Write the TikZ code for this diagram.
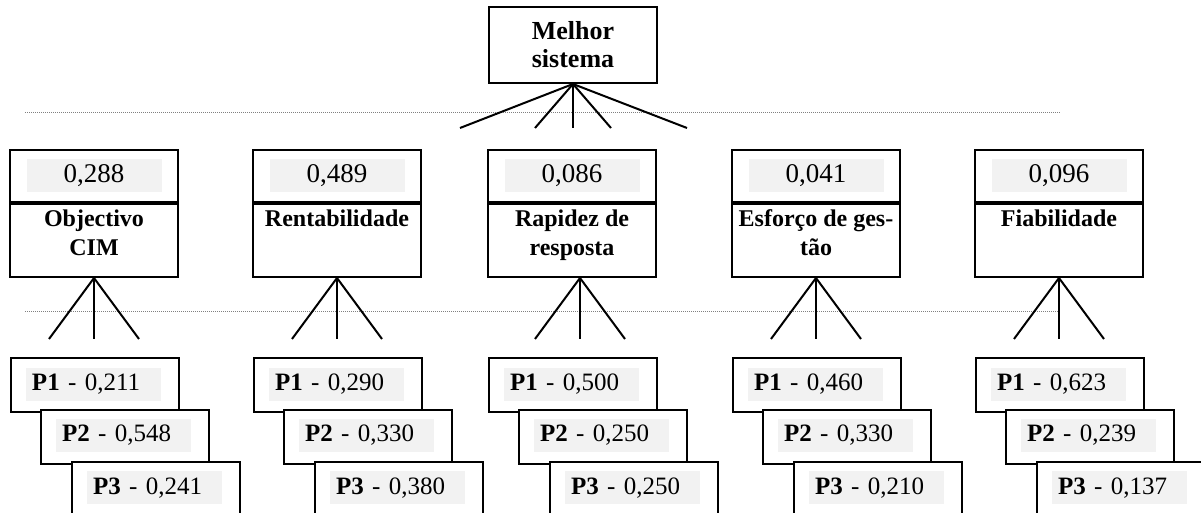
\documentclass[tikz,border=0pt]{standalone}
\usepackage{fontspec}
\setmainfont{Liberation Serif}
\usetikzlibrary{calc}
\definecolor{shade}{HTML}{F2F2F2}
\definecolor{dotc}{HTML}{808080}
\begin{document}
\begin{tikzpicture}[x=0.5pt,y=-0.5pt,
  box/.style={draw, line width=1pt, fill=white, inner sep=0pt, minimum width=84pt},
  topbox/.style={box, minimum height=38pt, align=center, font=\bfseries\fontsize{13}{14}\selectfont},
  valbox/.style={box, minimum height=26pt},
  labbox/.style={box, minimum height=36.5pt},
  pbox/.style={box, minimum height=27pt},
  pboxlast/.style={box, minimum height=40pt},
  shadebox/.style={fill=shade, inner sep=0pt, minimum width=67.5pt, minimum height=16.5pt},
  valtext/.style={shadebox, font=\fontsize{13.5}{16}\selectfont},
  ptext/.style={shadebox, text width=61.5pt, inner xsep=3pt, align=left, font=\fontsize{12.5}{15}\selectfont},
  labtext/.style={inner sep=0pt, align=center, font=\bfseries\fontsize{12}{14.5}\selectfont},
  fan/.style={line width=1pt},
  guide/.style={dotc, line width=0.5pt, dash pattern=on 0.5pt off 0.5pt}]
\useasboundingbox (0,0) rectangle (1201,513);
% guide lines
\coordinate (g1a) at (25,112.5);
\coordinate (g1b) at (1060,112.5);
\coordinate (g2a) at (25,312);
\coordinate (g2b) at (1059,312);
\draw[guide] (g1a) -- (g1b);
\draw[guide] (g2a) -- (g2b);
% top node
\node[topbox] (top) at (573,45) {Melhor\\sistema};
\foreach \n/\x in {a/460,b/535,c/573,d/611,e/687}{
  \coordinate (tf\n) at (\x,128);
  \draw[fan] (top.south) -- (tf\n);
}
% criteria columns
\foreach \i/\L/\val/\lab/\dx/\pa/\pb/\pc in {
  1/10/{0,288}/{Objectivo\\CIM}/0/{0,211}/{0,548}/{0,241},
  2/253/{0,489}/{Rentabilidade}/0/{0,290}/{0,330}/{0,380},
  3/488/{0,086}/{Rapidez de\\resposta}/8/{0,500}/{0,250}/{0,250},
  4/732/{0,041}/{Esforço de ges-\\tão}/0/{0,460}/{0,330}/{0,210},
  5/975/{0,096}/{Fiabilidade}/0/{0,623}/{0,239}/{0,137}}{
  \node[valbox] (v\i) at (\L+84,176) {};
  \node[valtext] (vt\i) at (v\i.center) {\val};
  \node[labbox, anchor=north] (c\i) at (v\i.south) {};
  \node[labtext, anchor=north] (ct\i) at ($(c\i.north)+(0,6)$) {\lab};
  \coordinate (ap\i) at ($(c\i.south)+(\dx,0)$);
  \coordinate (fl\i) at ($(ap\i)+(-45,61)$);
  \coordinate (fm\i) at ($(ap\i)+(0,61)$);
  \coordinate (fr\i) at ($(ap\i)+(45,61)$);
  \draw[fan] (ap\i) -- (fl\i);
  \draw[fan] (ap\i) -- (fm\i);
  \draw[fan] (ap\i) -- (fr\i);
  \node[pbox, anchor=north west] (pa\i) at (\L,357) {};
  \node[ptext] (pat\i) at ($(pa\i.north west)+(83.5,27.5)$) {\textbf{P1} - \pa};
  \node[pbox, anchor=north west] (pb\i) at (\L+30,409) {};
  \node[ptext] (pbt\i) at ($(pb\i.north west)+(83.5,26.5)$) {\textbf{P2} - \pb};
  \node[pboxlast, anchor=north west] (pc\i) at (\L+61,461) {};
  \node[ptext] (pct\i) at ($(pc\i.north west)+(83.5,27)$) {\textbf{P3} - \pc};
}
\end{tikzpicture}
\end{document}
